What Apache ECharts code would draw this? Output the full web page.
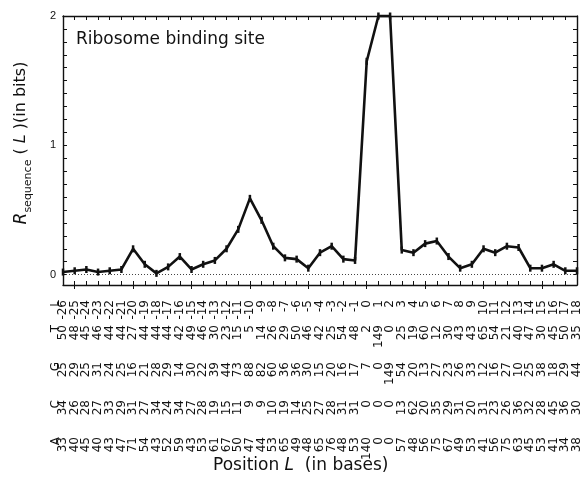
<!DOCTYPE html>
<html>
<head>
<meta charset="utf-8">
<script src="https://cdn.jsdelivr.net/npm/echarts@6/dist/echarts.min.js"></script>
<style>
  html, body { margin: 0; padding: 0; background: #fff; }
  #chart { width: 583px; height: 489px; }
</style>
</head>
<body>
<div id="chart"></div>
<script>
// Positions relative to the start codon
const positions = [
  -26, -25, -24, -23, -22, -21, -20, -19, -18, -17,
  -16, -15, -14, -13, -12, -11, -10, -9, -8, -7,
  -6, -5, -4, -3, -2, -1, 0, 1, 2, 3,
  4, 5, 6, 7, 8, 9, 10, 11, 12, 13,
  14, 15, 16, 17, 18
];

// Information content R_sequence(L) in bits
const rSequence = [
  0.02, 0.03, 0.04, 0.02, 0.03, 0.04, 0.20, 0.08, 0.01, 0.06,
  0.14, 0.04, 0.08, 0.11, 0.20, 0.35, 0.59, 0.42, 0.22, 0.13,
  0.12, 0.05, 0.17, 0.22, 0.12, 0.11, 1.65, 2.00, 2.00, 0.19,
  0.17, 0.24, 0.26, 0.14, 0.05, 0.08, 0.20, 0.17, 0.22, 0.21,
  0.05, 0.05, 0.08, 0.03, 0.03
];

// Base counts at each position
const countT = [
  50, 48, 45, 46, 44, 44, 27, 44, 44, 44,
  42, 49, 46, 30, 23, 15, 5, 14, 26, 29,
  50, 46, 42, 25, 54, 48, 2, 149, 0, 25,
  19, 60, 12, 30, 43, 43, 65, 54, 21, 40,
  47, 30, 45, 50, 35
];
const countG = [
  25, 29, 25, 31, 24, 25, 16, 21, 28, 29,
  14, 30, 22, 39, 44, 73, 88, 82, 60, 36,
  36, 30, 15, 20, 16, 17, 7, 0, 149, 54,
  20, 13, 27, 23, 26, 33, 12, 16, 27, 10,
  25, 38, 18, 29, 44
];
const countC = [
  34, 26, 28, 27, 33, 29, 31, 27, 34, 24,
  34, 27, 28, 19, 15, 11, 9, 9, 10, 19,
  14, 25, 27, 28, 31, 31, 0, 0, 0, 13,
  62, 20, 35, 29, 31, 20, 31, 23, 26, 36,
  32, 28, 45, 36, 30
];
const countA = [
  33, 40, 45, 40, 43, 47, 71, 54, 43, 52,
  59, 43, 53, 61, 67, 50, 47, 44, 53, 65,
  49, 48, 65, 76, 48, 53, 140, 0, 0, 57,
  48, 56, 75, 67, 49, 53, 41, 56, 75, 63,
  45, 53, 41, 34, 38
];

// Y axis labelled values
const yTickLabels = [0, 1, 2];

const FONT = '"DejaVu Sans", "Liberation Sans", sans-serif';
const AXIS_Y = 285;          // pixel row of the bottom axis line
const tableRows = [
  { name: 'L', top: 300, values: null },
  { name: 'T', top: 325, values: countT },
  { name: 'G', top: 362, values: countG },
  { name: 'C', top: 400, values: countC },
  { name: 'A', top: 437, values: countA }
];

const black = '#111';
const chart = echarts.init(document.getElementById('chart'), null, { renderer: 'canvas' });

// one label-only x axis per table row
const rowAxes = tableRows.map(row => ({
  type: 'category',
  position: 'bottom',
  data: positions,
  boundaryGap: false,
  axisLine: { show: false, onZero: false },
  axisTick: { show: false },
  splitLine: { show: false },
  axisLabel: {
    show: true,
    interval: 0,
    rotate: 90,
    margin: row.top - AXIS_Y,
    fontFamily: FONT,
    fontSize: 12,
    color: black,
    formatter: (v, i) => row.values ? String(row.values[i]) : String(v)
  }
}));

const option = {
  animation: false,
  backgroundColor: '#fff',
  grid: { left: 63, right: 5, top: 16, bottom: 489 - AXIS_Y, containLabel: false },
  xAxis: [
    {
      type: 'category', position: 'bottom', data: positions, boundaryGap: false,
      axisLine: { show: true, onZero: false, lineStyle: { color: black, width: 1.4 } },
      axisTick: { show: true, inside: true, length: 4, interval: 0, lineStyle: { color: black, width: 1 } },
      axisLabel: { show: false }, splitLine: { show: false }
    },
    {
      type: 'category', position: 'top', data: positions, boundaryGap: false,
      axisLine: { show: true, onZero: false, lineStyle: { color: black, width: 1.4 } },
      axisTick: { show: true, inside: true, length: 4, interval: 0, lineStyle: { color: black, width: 1 } },
      axisLabel: { show: false }, splitLine: { show: false }
    },
    {
      type: 'category', position: 'bottom', data: positions, boundaryGap: false,
      axisLine: { show: false, onZero: false },
      axisTick: {
        show: true, inside: false, length: 4,
        interval: (idx, val) => Number(val) % 5 === 0,
        lineStyle: { color: black, width: 1 }
      },
      axisLabel: { show: false }, splitLine: { show: false }
    }
  ].concat(rowAxes),
  yAxis: [
    {
      type: 'value', position: 'left', min: -0.08, max: 2, splitNumber: 21,
      axisLine: { show: true, onZero: false, lineStyle: { color: black, width: 1.4 } },
      axisTick: { show: true, inside: true, length: 4, lineStyle: { color: black, width: 1 } },
      splitLine: { show: false },
      axisLabel: {
        show: true, margin: 7, fontFamily: '"Liberation Sans", Arial, sans-serif', fontSize: 11, color: black,
        formatter: v => {
          const hit = yTickLabels.find(t => Math.abs(t - v) < 1e-6);
          return hit === undefined ? '' : String(hit);
        }
      }
    },
    {
      type: 'value', position: 'right', min: -0.08, max: 2, splitNumber: 21,
      axisLine: { show: true, onZero: false, lineStyle: { color: black, width: 1.4 } },
      axisTick: { show: true, inside: true, length: 4, lineStyle: { color: black, width: 1 } },
      splitLine: { show: false },
      axisLabel: { show: false }
    }
  ],
  series: [
    {
      type: 'line',
      xAxisIndex: 0,
      yAxisIndex: 0,
      data: rSequence,
      clip: false,
      showAllSymbol: true,
      symbol: 'rect',
      symbolSize: [2.5, 7],
      itemStyle: { color: black },
      lineStyle: { color: black, width: 2.6 },
      z: 5,
      markLine: {
        silent: true,
        symbol: 'none',
        label: { show: false },
        lineStyle: { color: '#444', width: 1, type: [1, 2] },
        data: [{ yAxis: 0 }]
      }
    }
  ],
  graphic: [
    {
      type: 'text', x: 76, y: 40,
      style: { text: 'Ribosome binding site', font: '17px ' + FONT, fill: black, verticalAlign: 'middle' }
    },
    {
      type: 'text', x: 13, y: 143, rotation: Math.PI / 2,
      style: {
        text: '{r|R}{s|sequence}{n| ( }{l|L}{n| )(in bits)}',
        align: 'center', verticalAlign: 'top', fill: black,
        rich: {
          r: { fontFamily: FONT, fontSize: 17, fontStyle: 'italic', lineHeight: 16, verticalAlign: 'top', fill: black },
          s: { fontFamily: FONT, fontSize: 11, lineHeight: 12, padding: [10, 0, 0, 0], verticalAlign: 'top', fill: black },
          n: { fontFamily: FONT, fontSize: 16, lineHeight: 16, verticalAlign: 'top', fill: black },
          l: { fontFamily: FONT, fontSize: 16, fontStyle: 'italic', lineHeight: 16, verticalAlign: 'top', fill: black }
        }
      }
    },
    {
      type: 'text', x: 213, y: 466,
      style: {
        text: '{n|Position }{l|L}{n|  (in bases)}',
        verticalAlign: 'middle', fill: black,
        rich: {
          n: { fontFamily: FONT, fontSize: 17, fill: black },
          l: { fontFamily: FONT, fontSize: 17, fontStyle: 'italic', fill: black }
        }
      }
    }
  ].concat(tableRows.map(row => ({
    type: 'text', x: 56, y: row.top, rotation: Math.PI / 2,
    style: { text: row.name, font: '12px ' + FONT, fill: black, align: 'right', verticalAlign: 'middle' }
  })))
};

chart.setOption(option);
</script>
</body>
</html>
